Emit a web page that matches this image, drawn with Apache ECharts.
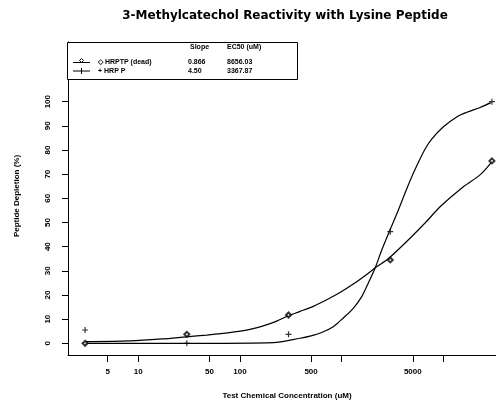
<!DOCTYPE html>
<html>
<head>
<meta charset="utf-8">
<script src="https://cdn.jsdelivr.net/npm/echarts@6/dist/echarts.min.js"></script>
<style>
html, body { margin: 0; padding: 0; background: #fff; }
#main { width: 496px; height: 404px; }
</style>
</head>
<body>
<div id="main"></div>
<script>
// test concentrations (uM) and measured peptide depletion (%)
var conc = [3, 30, 300, 3000, 30000];
var depletionA = [0, 3.7, 11.7, 34.5, 75.5];   // open diamonds
var depletionB = [5.5, 0, 3.7, 46.2, 100];     // plus marks

// fitted curves: log10(conc) -> depletion
var fitLogA = [0.476, 0.919, 1.230, 1.476, 1.673, 1.836, 1.968, 2.098, 2.229, 2.361, 2.469, 2.590, 2.721, 2.853, 2.983, 3.114, 3.262, 3.344, 3.458, 3.672, 3.836, 3.967, 4.196, 4.360, 4.466];
var fitA    = [0.7, 1.0, 1.8, 2.7, 3.4, 4.1, 4.8, 5.8, 7.2, 9.2, 11.3, 13.2, 15.3, 18.0, 21.0, 24.5, 29.0, 31.7, 35.0, 43.5, 50.5, 56.5, 64.8, 69.7, 74.6];
var fitLogB = [0.476, 1.017, 1.607, 2.325, 2.590, 2.689, 2.803, 2.917, 3.016, 3.114, 3.197, 3.262, 3.327, 3.393, 3.468, 3.541, 3.639, 3.722, 3.820, 3.885, 4.000, 4.131, 4.230, 4.361, 4.466];
var fitB    = [0, 0, 0, 0.3, 2.1, 3.0, 4.5, 6.9, 10.5, 14.5, 19.3, 25.0, 31.0, 38.5, 46.2, 53.5, 63.9, 72.0, 80.4, 84.5, 89.6, 93.7, 95.6, 97.6, 99.6];

var xTicks = [5, 10, 50, 100, 500, 1000, 5000, 10000];
var xLabels = [5, 10, 50, 100, 500, 5000];
var yTicks = [0, 10, 20, 30, 40, 50, 60, 70, 80, 90, 100];

var legendNames = ['\u25C7 HRPTP (dead)', '+ HRP P'];
var slopes = ['0.866', '4.50'];
var ec50s = ['8656.03', '3367.87'];

var FONT = 'Liberation Sans';
var plusPath = 'path://M4,0 L6,0 L6,4 L10,4 L10,6 L6,6 L6,10 L4,10 L4,6 L0,6 L0,4 L4,4 Z';

function pairs(xs, ys) {
  var out = [];
  for (var i = 0; i < xs.length; i++) out.push([xs[i], ys[i]]);
  return out;
}
var logConc = conc.map(function (c) { return Math.log10(c); });

var chart = echarts.init(document.getElementById('main'));

// legend table drawn by hand (it has slope / EC50 columns)
var legendGraphic = [
  { type: 'rect', shape: { x: 67.5, y: 42.5, width: 230, height: 37 },
    style: { fill: '#fff', stroke: '#000', lineWidth: 1 }, z: 100 },
  { type: 'text', x: 190, y: 47, z: 101,
    style: { text: 'Slope', font: 'bold 7px ' + FONT, fill: '#000', verticalAlign: 'middle' } },
  { type: 'text', x: 227, y: 47, z: 101,
    style: { text: 'EC50 (uM)', font: 'bold 7px ' + FONT, fill: '#000', verticalAlign: 'middle' } }
];
var rowY = [62.5, 71];
for (var r = 0; r < 2; r++) {
  legendGraphic.push(
    { type: 'line', shape: { x1: 73, y1: rowY[r], x2: 90, y2: rowY[r] }, style: { stroke: '#000', lineWidth: 1 }, z: 101 },
    { type: 'text', x: 98, y: rowY[r], z: 101,
      style: { text: legendNames[r], font: 'bold 7px ' + FONT, fill: '#000', verticalAlign: 'middle' } },
    { type: 'text', x: 188, y: rowY[r], z: 101,
      style: { text: slopes[r], font: 'bold 7px ' + FONT, fill: '#000', verticalAlign: 'middle' } },
    { type: 'text', x: 227, y: rowY[r], z: 101,
      style: { text: ec50s[r], font: 'bold 7px ' + FONT, fill: '#000', verticalAlign: 'middle' } }
  );
}
legendGraphic.push(
  { type: 'polygon', shape: { points: [[81.5, 58.5], [83.5, 60.5], [81.5, 62.5], [79.5, 60.5]] },
    style: { fill: '#fff', stroke: '#000', lineWidth: 1 }, z: 102 },
  { type: 'line', shape: { x1: 81.5, y1: 68, x2: 81.5, y2: 74 }, style: { stroke: '#000', lineWidth: 1 }, z: 102 }
);

var option = {
  animation: false,
  backgroundColor: '#fff',
  textStyle: { fontFamily: FONT },
  grid: { left: 68, right: 0, top: 42, bottom: 49, containLabel: false, outerBoundsMode: 'none' },
  xAxis: {
    type: 'value',
    min: Math.log10(2.036),
    max: Math.log10(32900),
    axisLine: { show: true, onZero: false, lineStyle: { color: '#000', width: 1 } },
    axisTick: { show: true, length: 7, lineStyle: { color: '#000' },
      customValues: xTicks.map(function (v) { return Math.log10(v); }) },
    axisLabel: { show: true, margin: 13, color: '#000', fontSize: 8, fontWeight: 'bold', fontFamily: FONT,
      customValues: xLabels.map(function (v) { return Math.log10(v); }),
      formatter: function (v) { return String(Math.round(Math.pow(10, v))); } },
    splitLine: { show: false }
  },
  yAxis: {
    type: 'value',
    min: -4.84,
    max: 124.7,
    axisLine: { show: true, onZero: false, lineStyle: { color: '#000', width: 1 } },
    axisTick: { show: true, length: 6, lineStyle: { color: '#000' }, customValues: yTicks },
    axisLabel: { show: true, margin: 16, rotate: 90, color: '#000', fontSize: 8, fontWeight: 'bold', fontFamily: FONT,
      customValues: yTicks },
    splitLine: { show: false }
  },
  graphic: [
    { type: 'text', x: 285, y: 16,
      style: { text: '3-Methylcatechol Reactivity with Lysine Peptide', font: 'bold 12px DejaVu Sans',
        fill: '#000', align: 'center', verticalAlign: 'middle' } },
    { type: 'text', x: 17, y: 196, rotation: Math.PI / 2,
      style: { text: 'Peptide Depletion (%)', font: 'bold 8px ' + FONT, fill: '#000',
        align: 'center', verticalAlign: 'middle' } },
    { type: 'text', x: 287, y: 396,
      style: { text: 'Test Chemical Concentration (uM)', font: 'bold 8px ' + FONT, fill: '#000',
        align: 'center', verticalAlign: 'middle' } }
  ].concat(legendGraphic),
  series: [
    { name: 'fitA', type: 'line', data: pairs(fitLogA, fitA), smooth: 0.3, showSymbol: false,
      lineStyle: { color: '#000', width: 1.2 }, z: 2 },
    { name: 'fitB', type: 'line', data: pairs(fitLogB, fitB), smooth: 0.3, showSymbol: false,
      lineStyle: { color: '#000', width: 1.2 }, z: 2 },
    { name: 'HRPTP', type: 'scatter', data: pairs(logConc, depletionA), symbol: 'emptyDiamond', symbolSize: 5,
      itemStyle: { color: '#000', borderColor: '#000', borderWidth: 1 }, z: 3 },
    { name: 'HRPP', type: 'scatter', data: pairs(logConc, depletionB), symbol: plusPath, symbolSize: 6,
      itemStyle: { color: '#000' }, z: 3 }
  ]
};
chart.setOption(option);
</script>
</body>
</html>
